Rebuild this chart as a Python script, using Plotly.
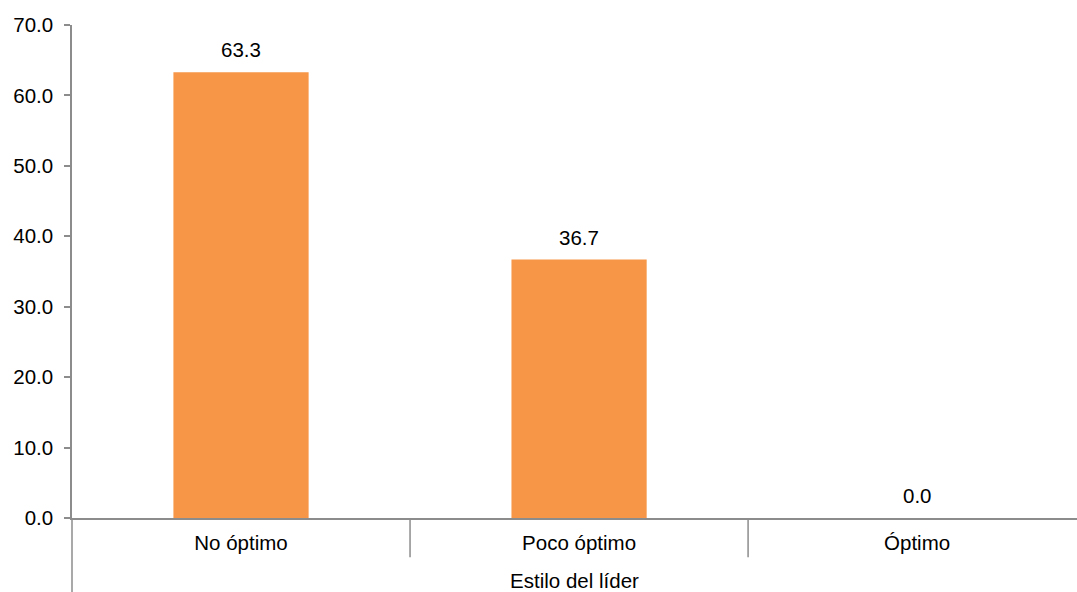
import plotly.graph_objects as go

# Chart data
categories = ["No óptimo", "Poco óptimo", "Óptimo"]
values = [63.3, 36.7, 0.0]
y_ticks = [0, 10, 20, 30, 40, 50, 60, 70]
y_tick_labels = ["0.0", "10.0", "20.0", "30.0", "40.0", "50.0", "60.0", "70.0"]
x_title = "Estilo del líder"

BAR_COLOR = "#F79646"
AXIS_COLOR = "#8C8C8C"
FONT = "Liberation Sans, Arial, sans-serif"
FS = 20.5

fig = go.Figure(
    go.Bar(
        x=categories,
        y=values,
        marker=dict(color=BAR_COLOR, line=dict(width=0)),
        width=0.4,
        hoverinfo="skip",
    )
)

# Value labels above each bar
for cat, val in zip(categories, values):
    fig.add_annotation(
        x=cat, y=val, text=f"{val:.1f}", showarrow=False,
        yanchor="bottom", yshift=9,
        font=dict(family=FONT, size=FS, color="#000000"),
    )

# Category separators below the x axis
for pos in [0.5, 1.5]:
    fig.add_shape(
        type="line", xref="x", yref="paper",
        x0=pos, x1=pos, y0=0, y1=-0.0795,
        line=dict(color=AXIS_COLOR, width=1.5),
    )

# Vertical axis line continues below the plot area
fig.add_shape(
    type="line", xref="paper", yref="paper",
    x0=0, x1=0, y0=0, y1=-0.2,
    line=dict(color=AXIS_COLOR, width=1.5),
)

fig.update_layout(
    width=1077, height=592,
    margin=dict(l=72, r=0, t=25, b=74),
    plot_bgcolor="white", paper_bgcolor="white",
    showlegend=False,
    font=dict(family=FONT, size=FS, color="#000000"),
    xaxis=dict(
        range=[-0.5, 2.473],
        showline=True, linecolor=AXIS_COLOR, linewidth=1.5,
        ticks="", showgrid=False, zeroline=False,
        tickfont=dict(family=FONT, size=FS, color="#000000"),
        ticklabelstandoff=6,
        title=dict(text=x_title, standoff=22,
                   font=dict(family=FONT, size=FS, color="#000000")),
    ),
    yaxis=dict(
        range=[0, 70],
        tickvals=y_ticks, ticktext=y_tick_labels,
        showline=True, linecolor=AXIS_COLOR, linewidth=1.5,
        ticks="outside", ticklen=6, tickcolor=AXIS_COLOR, tickwidth=1.5,
        showgrid=False, zeroline=False,
        tickfont=dict(family=FONT, size=FS, color="#000000"),
        ticklabelstandoff=7,
    ),
)

fig.write_html("out.html")
